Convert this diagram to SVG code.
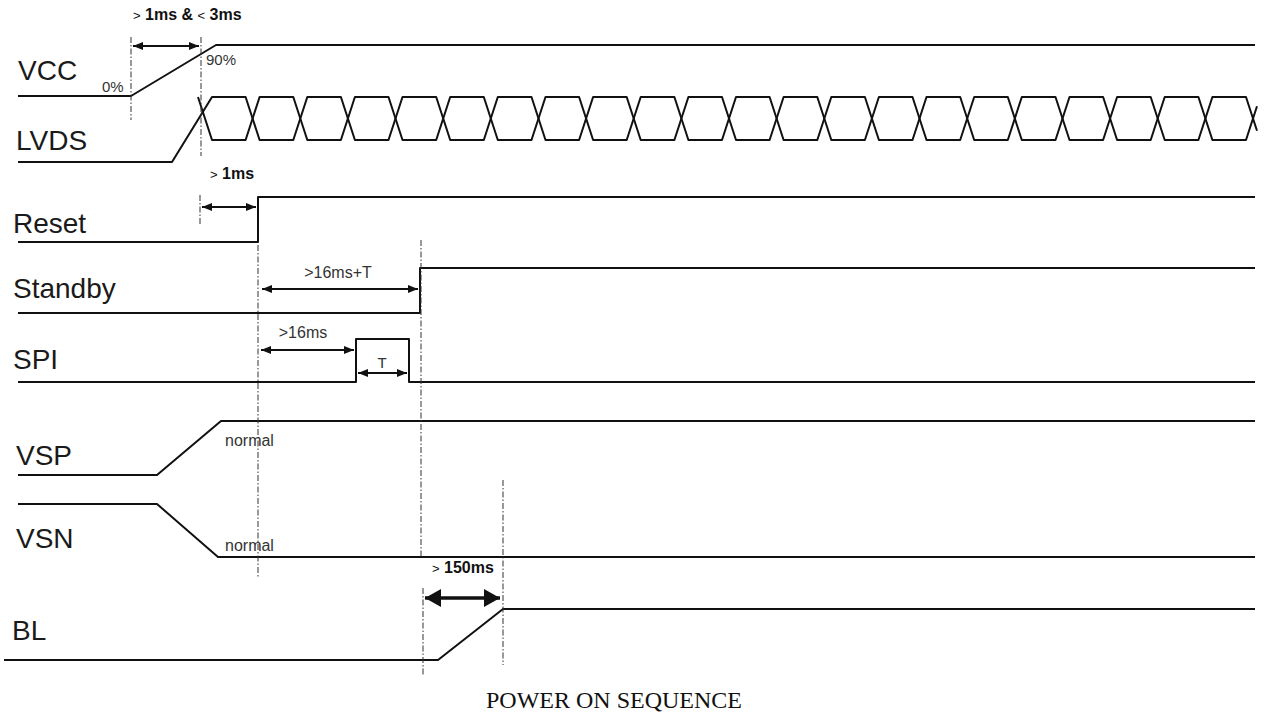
<svg xmlns="http://www.w3.org/2000/svg" width="1264" height="722" viewBox="0 0 1264 722">
<style>
.sig{fill:none;stroke:#111;stroke-width:2;stroke-linejoin:round;stroke-linecap:butt}
.name{font-family:"Liberation Sans",Arial,sans-serif;font-size:28px;fill:#1a1a1a}
.small{font-family:"Liberation Sans",Arial,sans-serif;font-size:16px;fill:#333}
.bold{font-family:"Liberation Sans",Arial,sans-serif;font-size:16px;font-weight:bold;fill:#111}
.thin{font-weight:normal;font-size:13px}
.dash{fill:none;stroke:#333;stroke-width:1;stroke-dasharray:6 2 1.5 2}
.arr{fill:none;stroke:#111;stroke-width:2;marker-start:url(#ah);marker-end:url(#ah)}
.arrb{fill:none;stroke:#111;stroke-width:3.5;marker-start:url(#ahb);marker-end:url(#ahb)}
.title{font-family:"Liberation Serif","Times New Roman",serif;font-size:24px;fill:#111}
</style>
<defs>
<marker id="ah" viewBox="0 0 10 8" refX="10" refY="4" markerWidth="10" markerHeight="8" markerUnits="userSpaceOnUse" orient="auto-start-reverse">
<path d="M0,0 L10,4 L0,8 Z" fill="#111"/>
</marker>
<marker id="ahb" viewBox="0 0 16 18" refX="16" refY="9" markerWidth="16" markerHeight="18" markerUnits="userSpaceOnUse" orient="auto-start-reverse">
<path d="M0,0 L16,9 L0,18 Z" fill="#111"/>
</marker>
</defs>
<rect width="1264" height="722" fill="#fff"/>

<g id="vcc">
<text class="name" x="18" y="80">VCC</text>
<polyline class="sig" points="18,96 131,96 216,45 1255,45"/>
<text class="small" x="102" y="92" style="font-size:15px">0%</text>
<text class="small" x="206" y="65" style="font-size:15px">90%</text>
</g>

<g id="lvds">
<text class="name" x="16" y="150">LVDS</text>
<polyline class="sig" points="18,162 172,162 212,97 245.6,97 259.6,140 293.3,140 307.3,97 340.9,97 354.9,140 388.5,140 402.5,97 436.2,97 450.2,140 483.8,140 497.8,97 531.5,97 545.5,140 579.1,140 593.1,97 626.7,97 640.7,140 674.4,140 688.4,97 722,97 736,140 769.6,140 783.6,97 817.3,97 831.3,140 864.9,140 878.9,97 912.5,97 926.5,140 960.2,140 974.2,97 1007.8,97 1021.8,140 1055.5,140 1069.5,97 1103.1,97 1117.1,140 1150.7,140 1164.7,97 1198.4,97 1212.4,140 1246,140 1257,106.2"/>
<polyline class="sig" points="198,97 212,140 245.6,140 259.6,97 293.3,97 307.3,140 340.9,140 354.9,97 388.5,97 402.5,140 436.2,140 450.2,97 483.8,97 497.8,140 531.5,140 545.5,97 579.1,97 593.1,140 626.7,140 640.7,97 674.4,97 688.4,140 722,140 736,97 769.6,97 783.6,140 817.3,140 831.3,97 864.9,97 878.9,140 912.5,140 926.5,97 960.2,97 974.2,140 1007.8,140 1021.8,97 1055.5,97 1069.5,140 1103.1,140 1117.1,97 1150.7,97 1164.7,140 1198.4,140 1212.4,97 1246,97 1257,130.8"/>
</g>

<g id="reset">
<text class="name" x="13" y="233">Reset</text>
<polyline class="sig" points="18,242 258,242 258,197 1255,197"/>
</g>

<g id="standby">
<text class="name" x="13" y="298">Standby</text>
<polyline class="sig" points="18,313 420,313 420,268 1255,268"/>
</g>

<g id="spi">
<text class="name" x="13" y="369">SPI</text>
<polyline class="sig" points="18,382 356,382 356,339 409,339 409,382 1255,382"/>
</g>

<g id="vsp">
<text class="name" x="16" y="465">VSP</text>
<polyline class="sig" points="18,475 157,475 221,421 1255,421"/>
<text class="small" x="225" y="446">normal</text>
</g>

<g id="vsn">
<text class="name" x="16" y="548">VSN</text>
<polyline class="sig" points="18,504 157,504 218,557 1255,557"/>
<text class="small" x="225" y="551">normal</text>
</g>

<g id="bl">
<text class="name" x="12" y="640">BL</text>
<polyline class="sig" points="4,660 438,660 503,609 1255,609"/>
</g>

<g id="connectors">
<line class="dash" x1="131" y1="37" x2="131" y2="120"/>
<line class="dash" x1="201" y1="37" x2="201" y2="156"/>
<line class="dash" x1="200" y1="195" x2="200" y2="225"/>
<line class="dash" x1="258" y1="245" x2="258" y2="578"/>
<line class="dash" x1="421" y1="240" x2="421" y2="557"/>
<line class="dash" x1="423" y1="588" x2="423" y2="675"/>
<line class="dash" x1="503" y1="480" x2="503" y2="665"/>

<line class="arr" x1="133" y1="46" x2="199" y2="46"/>
<line class="arr" x1="202" y1="207" x2="256" y2="207"/>
<line class="arr" x1="262" y1="289" x2="418" y2="289"/>
<line class="arr" x1="261" y1="350" x2="354" y2="350"/>
<line class="arr" x1="358" y1="373" x2="407" y2="373"/>
<line class="arrb" x1="425" y1="598" x2="500" y2="598"/>
</g>

<g id="labels">
<text class="bold" x="133" y="20"><tspan class="thin">&gt;</tspan> 1ms &amp; <tspan class="thin">&lt;</tspan> 3ms</text>
<text class="bold" x="210" y="179"><tspan class="thin">&gt;</tspan> 1ms</text>
<text class="small" x="338" y="278" text-anchor="middle">&gt;16ms+T</text>
<text class="small" x="303" y="338" text-anchor="middle">&gt;16ms</text>
<text class="small" x="382" y="368" text-anchor="middle" style="font-size:15px">T</text>
<text class="bold" x="432" y="573"><tspan class="thin">&gt;</tspan> 150ms</text>
<text class="title" x="614" y="708" text-anchor="middle">POWER ON SEQUENCE</text>
</g>
</svg>
